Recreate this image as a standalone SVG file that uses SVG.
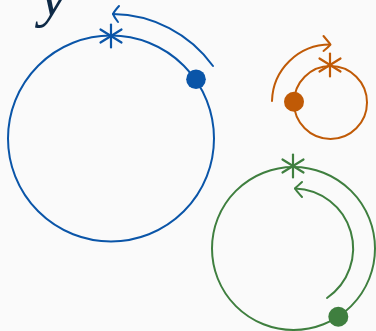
<svg xmlns="http://www.w3.org/2000/svg" width="376" height="331" viewBox="0 0 376 331">
<defs>
<style>
.c{fill:none;stroke-width:2}
.b{stroke:#0a55a8}
.o{stroke:#c05a06}
.g{stroke:#3f7f3f}
.st{stroke-width:2.2;stroke-linecap:round}
</style>
<g id="star">
<line x1="0" y1="-11.5" x2="0" y2="11.5"/>
<line x1="-10.5" y1="-6.5" x2="10.5" y2="6.5"/>
<line x1="-10.5" y1="6.5" x2="10.5" y2="-6.5"/>
</g>
</defs>
<rect width="376" height="331" fill="#fafafa"/>
<text x="40" y="15" font-family="Liberation Serif, serif" font-style="italic" font-size="60" fill="#0e2a47">y</text>
<g id="blue">
<circle class="c b" cx="111" cy="138.5" r="103"/>
<use href="#star" x="111" y="36" class="b st"/>
<circle cx="196" cy="79.3" r="9.8" fill="#0a55a8"/>
</g>
<g id="orange">
<circle class="c o" cx="330.5" cy="102.5" r="36.5"/>
<use href="#star" x="330" y="65" class="o st"/>
<circle cx="294" cy="101.7" r="10" fill="#c05a06"/>
</g>
<g id="green">
<circle class="c g" cx="293.5" cy="248.5" r="81.5"/>
<use href="#star" x="293" y="166" class="g st"/>
<circle cx="338.3" cy="316.7" r="10" fill="#3f7f3f"/>
</g>
<g id="connectors" stroke-linecap="round" stroke-linejoin="round">
<path class="c b" d="M213,66 A125,125 0 0 0 113,14"/>
<path class="c b" d="M119,6 Q114.5,11 113,14 Q114.5,17.5 118,22"/>
<path class="c o" d="M272,101 A58,58 0 0 1 330,44.5"/>
<path class="c o" d="M323.5,36 Q328.5,42 330.5,44.5 Q328,47.5 323.5,51"/>
<path class="c g" d="M327,298 A60,60 0 0 0 295,188.5"/>
<path class="c g" d="M302,182 Q297,186.5 295,188.5 Q297,191.5 302,197"/>
</g>
</svg>
